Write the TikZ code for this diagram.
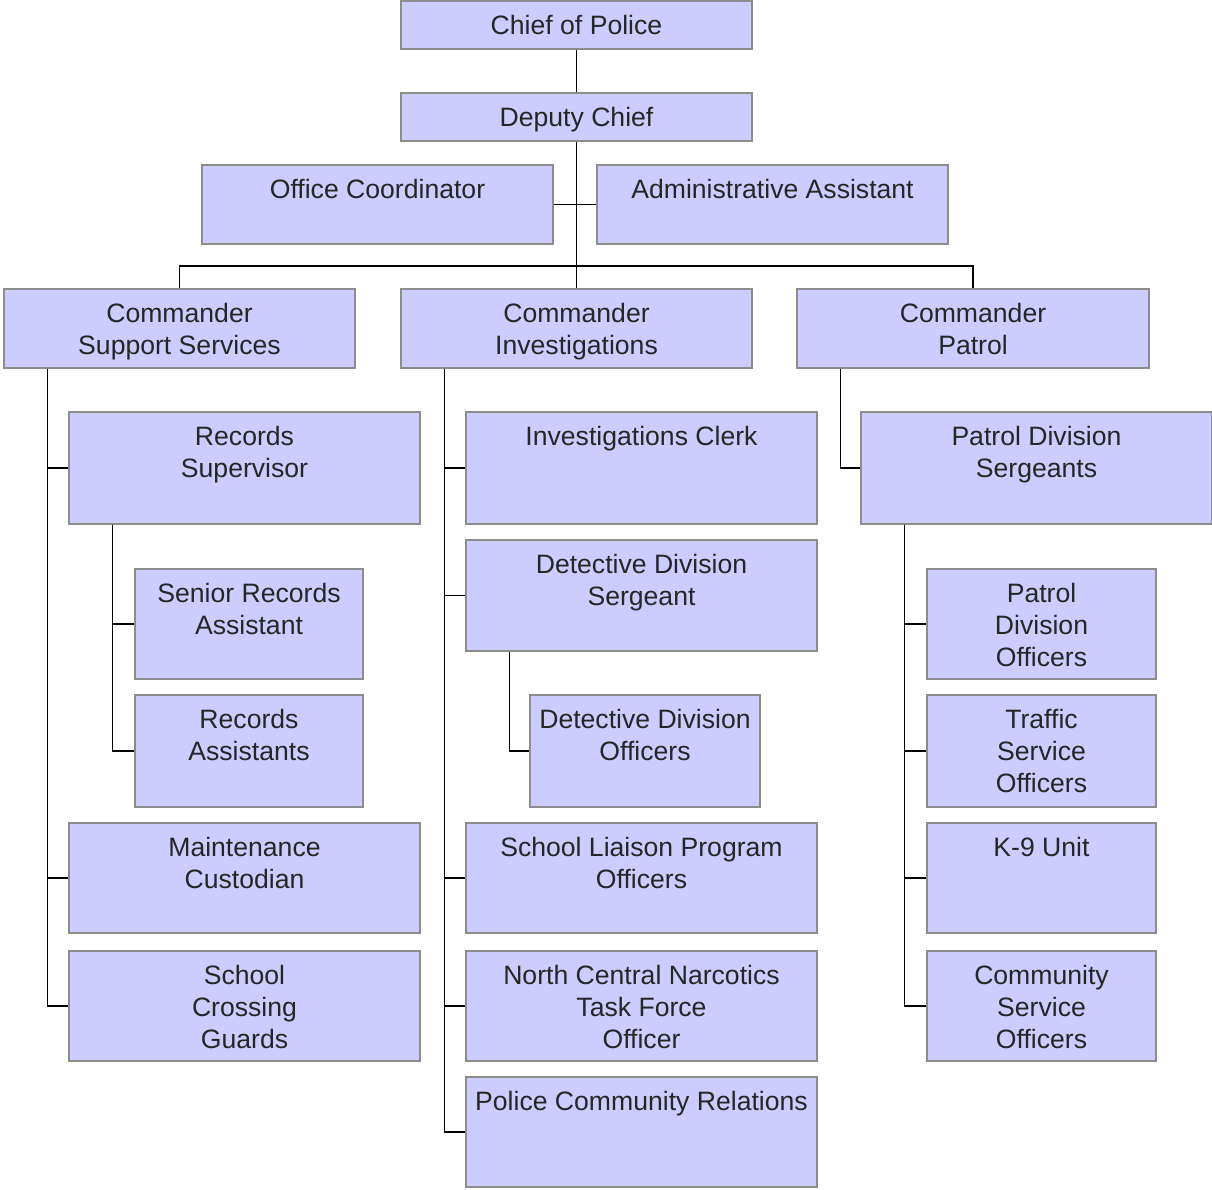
\documentclass[tikz,border=0pt]{standalone}
\usepackage{fontspec}
\setmainfont{Liberation Sans}
\usetikzlibrary{fit}
\definecolor{boxfill}{HTML}{CCCCFF}
\definecolor{boxline}{HTML}{8C8C8C}
\tikzset{
  unit/.style={draw=boxline, fill=boxfill, line width=0.6pt, inner sep=0pt, rectangle},
  title/.style={label={[font=\fontsize{13.3}{16}\selectfont, text=black!85, align=center, anchor=north, inner sep=0pt, yshift=-7.3pt]north:#1}},
  link/.style={black, line width=0.7pt}
}
\begin{document}
\begin{tikzpicture}[x=0.5pt, y=-0.5pt]
\useasboundingbox (0,0) rectangle (1212,1190);
% top of the chart
\node[unit, fit={(401,1) (752,49)}, title={Chief of Police}] (chief) {};
\node[unit, fit={(401,93) (752,141)}, title={Deputy Chief}] (deputy) {};
\node[unit, fit={(202,165) (553,244)}, title={Office Coordinator}] (office) {};
\node[unit, fit={(597,165) (948,244)}, title={Administrative Assistant}] (admin) {};
% commanders
\node[unit, fit={(4,289) (355,368)}, title={Commander\\Support Services}] (cmdsup) {};
\node[unit, fit={(401,289) (752,368)}, title={Commander\\Investigations}] (cmdinv) {};
\node[unit, fit={(797,289) (1149,368)}, title={Commander\\Patrol}] (cmdpat) {};
% support services
\node[unit, fit={(69,412) (420,524)}, title={Records\\Supervisor}] (recsup) {};
\node[unit, fit={(135,569) (363,679)}, title={Senior Records\\Assistant}] (senrec) {};
\node[unit, fit={(135,695) (363,807)}, title={Records\\Assistants}] (recasst) {};
\node[unit, fit={(69,823) (420,933)}, title={Maintenance\\Custodian}] (maint) {};
\node[unit, fit={(69,951) (420,1061)}, title={School\\Crossing\\Guards}] (xguard) {};
% investigations
\node[unit, fit={(466,412) (817,524)}, title={Investigations Clerk}] (invclerk) {};
\node[unit, fit={(466,540) (817,651)}, title={Detective Division\\Sergeant}] (detsgt) {};
\node[unit, fit={(530,695) (760,807)}, title={Detective Division\\Officers}] (detoff) {};
\node[unit, fit={(466,823) (817,933)}, title={School Liaison Program\\Officers}] (liaison) {};
\node[unit, fit={(466,951) (817,1061)}, title={North Central Narcotics\\Task Force\\Officer}] (narc) {};
\node[unit, fit={(466,1077) (817,1187)}, title={Police Community Relations}] (pcr) {};
% patrol
\node[unit, fit={(861,412) (1212,524)}, title={Patrol Division\\Sergeants}] (patsgt) {};
\node[unit, fit={(927,569) (1156,679)}, title={Patrol\\Division\\Officers}] (patoff) {};
\node[unit, fit={(927,695) (1156,807)}, title={Traffic\\Service\\Officers}] (traffic) {};
\node[unit, fit={(927,823) (1156,933)}, title={K-9 Unit}] (kunit) {};
\node[unit, fit={(927,951) (1156,1061)}, title={Community\\Service\\Officers}] (commsvc) {};
% connectors
\coordinate (bar) at (576,266);
\draw[link] (chief.south) -- (deputy.north);
\draw[link] (deputy.south) -- (cmdinv.north);
\draw[link] (office.east) -- (admin.west);
\draw[link] (cmdsup.north) |- (bar) -| (cmdpat.north);
\coordinate (suptrunk) at ([xshift=22pt]cmdsup.south west);
\draw[link] (suptrunk) |- (recsup.west);
\draw[link] (suptrunk) |- (maint.west);
\draw[link] (suptrunk) |- (xguard.west);
\coordinate (rectrunk) at ([xshift=22pt]recsup.south west);
\draw[link] (rectrunk) |- (senrec.west);
\draw[link] (rectrunk) |- (recasst.west);
\coordinate (invtrunk) at ([xshift=22pt]cmdinv.south west);
\draw[link] (invtrunk) |- (invclerk.west);
\draw[link] (invtrunk) |- (detsgt.west);
\draw[link] (invtrunk) |- (liaison.west);
\draw[link] (invtrunk) |- (narc.west);
\draw[link] (invtrunk) |- (pcr.west);
\coordinate (dettrunk) at ([xshift=22pt]detsgt.south west);
\draw[link] (dettrunk) |- (detoff.west);
\coordinate (pattrunk) at ([xshift=22pt]cmdpat.south west);
\draw[link] (pattrunk) |- (patsgt.west);
\coordinate (sgttrunk) at ([xshift=22pt]patsgt.south west);
\draw[link] (sgttrunk) |- (patoff.west);
\draw[link] (sgttrunk) |- (traffic.west);
\draw[link] (sgttrunk) |- (kunit.west);
\draw[link] (sgttrunk) |- (commsvc.west);
\end{tikzpicture}
\end{document}
